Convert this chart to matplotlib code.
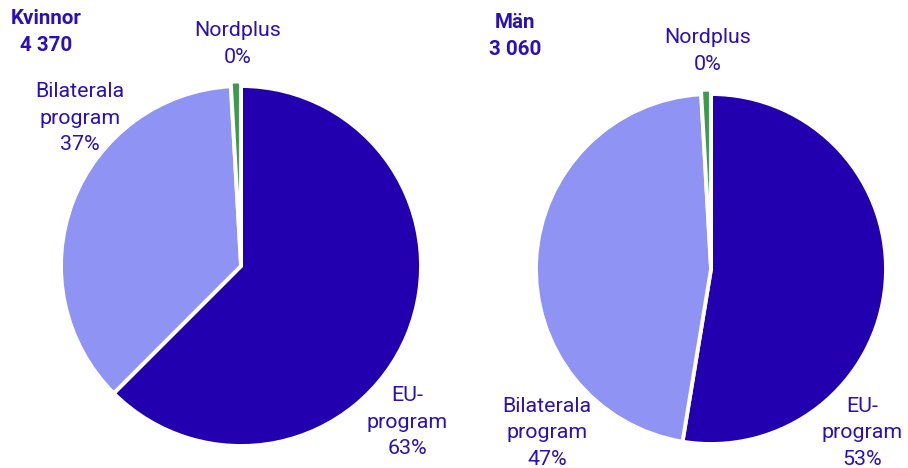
import matplotlib
matplotlib.use("Agg")
import matplotlib.pyplot as plt

plt.rcParams["font.family"] = ["Roboto", "DejaVu Sans"]

# shares in percent, clockwise from the top (Nordplus is tiny, shown as 0 %)
categories = ["EU-\nprogram", "Bilaterala\nprogram", "Nordplus"]
kvinnor = [62.5, 36.6, 0.9]
man = [52.6, 46.5, 0.9]
kvinnor_labels = ["63%", "37%", "0%"]
man_labels = ["53%", "47%", "0%"]
kvinnor_total = "4 370"
man_total = "3 060"

colors = ["#2200b0", "#8f94f4", "#3c9a4c"]
text_color = "#2a10b8"

W, H = 908, 468
fig = plt.figure(figsize=(W / 100, H / 100), dpi=100)


def px(x, y):
	return x / W, 1 - y / H


def add_pie(cx, cy, r, values):
	ax = fig.add_axes([(cx - r) / W, (H - cy - r) / H, 2 * r / W, 2 * r / H])
	ax.pie(values, colors=colors, startangle=90, counterclock=False,
		explode=[0, 0, 0.025],
		wedgeprops=dict(edgecolor="white", linewidth=2.8))
	ax.set_xlim(-1.0, 1.0)
	ax.set_ylim(-1.0, 1.0)
	ax.set_aspect("equal")
	ax.axis("off")
	return ax


def label(x, y, s, bold=False, size=15.4):
	fig.text(*px(x, y), s, ha="center", va="center", fontsize=size, color=text_color,
		fontweight="bold" if bold else "normal", linespacing=1.5)


add_pie(241, 266, 180, kvinnor)
add_pie(711, 269, 175, man)

label(46, 32, "Kvinnor\n" + kvinnor_total, bold=True, size=14.8)
label(238, 44, f"{categories[2]}\n{kvinnor_labels[2]}")
label(80, 118, f"{categories[1]}\n{kvinnor_labels[1]}")
label(407, 422, f"{categories[0]}\n{kvinnor_labels[0]}")

label(515, 36, "Män\n" + man_total, bold=True, size=14.8)
label(708, 51, f"{categories[2]}\n{man_labels[2]}")
label(547, 433, f"{categories[1]}\n{man_labels[1]}")
label(862, 433, f"{categories[0]}\n{man_labels[0]}")

fig.savefig("out.png", dpi=100)
